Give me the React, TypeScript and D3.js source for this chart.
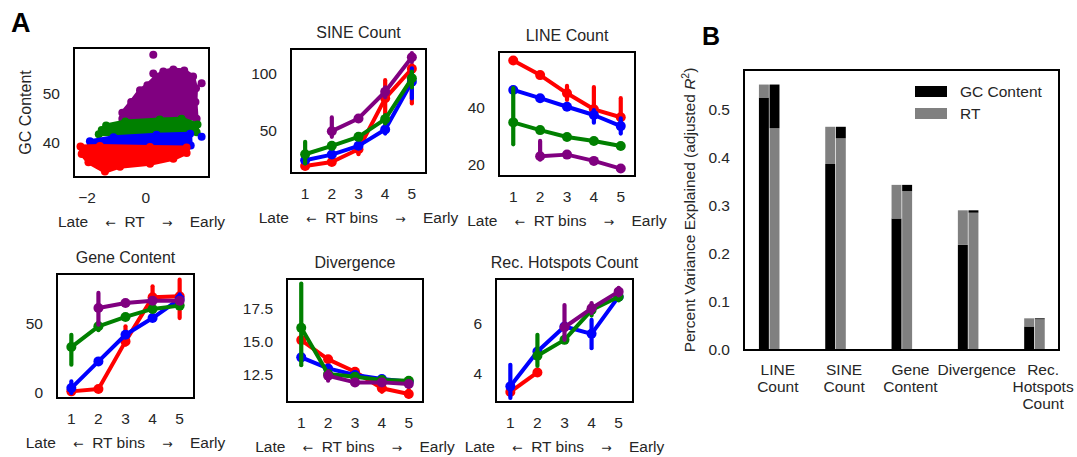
import React from "react";
import * as d3 from "d3";

// ---------- DATA ----------
const bins = [1, 2, 3, 4, 5];
const hueColors = ["#ff0000", "#0000ff", "#008000", "#800080"]; // red, blue, green, purple

// SINE Count
const sineMean = [
  [18.5, 22, 33.2, 78, 104],
  [23.5, 28.5, 36.2, 50.6, 92.6],
  [28.8, 36.2, 44.1, 59.7, 95.6],
  [null, 49.1, 60.3, 83.8, 114.2],
];
const sineLo = [
  [17, 20.5, 28.8, 63, 73.5],
  [22, 27, 34.5, 47, 78],
  [20.6, 34.5, 42.5, 55.9, 87.7],
  [null, 44.1, 58.5, 78.9, 110],
];
const sineHi = [
  [20, 23.5, 38.3, 94, 107.4],
  [25, 30, 38, 54.4, 104.4],
  [39.7, 38, 46, 63.2, 101.5],
  [null, 61.2, 62, 87.7, 117.7],
];

// LINE Count
const lineMean = [
  [56.4, 51.3, 44.9, 39.3, 36.5],
  [46.1, 43.2, 40.2, 37.3, 33.4],
  [34.7, 32, 29.6, 28.2, 26.4],
  [null, 22.8, 23.4, 21.2, 18.5],
];
const lineLo = [
  [55.8, 50.6, 42.6, 37.3, 34.9],
  [45.4, 42.5, 39.5, 34.6, 30.8],
  [27, 31.3, 28.9, 27.5, 25.7],
  [null, 21.6, 22.7, 20.5, 17.8],
];
const lineHi = [
  [57, 52, 47.5, 47.1, 43.2],
  [46.8, 43.9, 40.9, 39, 36.1],
  [46.7, 32.7, 30.3, 28.9, 27.1],
  [null, 28.2, 24.1, 21.9, 19.2],
];

// Gene Content
const geneMean = [
  [1.2, 2.9, 37.4, 69.3, 70],
  [3.6, 22.9, 42.2, 54.3, 68.1],
  [33.3, 48.3, 55.1, 60.9, 63.3],
  [null, 61.6, 65.2, 66.9, 66.9],
];
const geneLo = [
  [0.5, 2.0, 35, 61.6, 54.3],
  [0, 21.5, 40.5, 53, 64.5],
  [20.5, 45.5, 53.8, 59.6, 62],
  [null, 49.5, 64, 65.7, 65.5],
];
const geneHi = [
  [2, 4, 48.3, 77.3, 82.1],
  [8.4, 24.5, 44, 55.7, 71.5],
  [42.2, 51, 56.5, 62.2, 64.6],
  [null, 72.5, 66.4, 68.1, 68.3],
];

// Divergence
const divMean = [
  [15.13, 13.67, 12.73, 11.47, 11.04],
  [13.82, 12.98, 12.48, 12.17, 11.97],
  [16.06, 12.55, 12.35, 12.1, 12.05],
  [null, 12.42, 11.92, 11.92, 11.8],
];
const divLo = [
  [15.0, 13.55, 12.6, 11.2, 10.85],
  [13.72, 12.88, 12.38, 12.07, 11.87],
  [13.23, 12.45, 12.25, 12.0, 11.95],
  [null, 12.05, 11.82, 11.82, 11.7],
];
const divHi = [
  [15.25, 13.8, 12.85, 11.9, 11.35],
  [13.92, 13.08, 12.58, 12.27, 12.07],
  [19.42, 12.65, 12.45, 12.2, 12.15],
  [null, 12.75, 12.02, 12.02, 11.9],
];

// Rec. Hotspots Count
const recMean = [
  [3.28, 4.05, null, null, null],
  [3.5, 4.88, 5.87, 5.58, 7.05],
  [null, 4.71, 5.34, 6.52, 7.05],
  [null, null, 5.84, 6.59, 7.25],
];
const recLo = [
  [3.2, 3.95, null, null, null],
  [3.04, 4.8, 5.8, 5.01, 6.98],
  [null, 4.31, 5.25, 6.3, 6.9],
  [null, null, 5.34, 6.4, 7.1],
];
const recHi = [
  [3.36, 4.15, null, null, null],
  [4.35, 4.96, 5.94, 6.13, 7.12],
  [null, 5.54, 5.43, 6.7, 7.35],
  [null, null, 6.72, 6.8, 7.4],
];

// GC content vs RT scatter clouds (outlines of dense point clouds)
const gcPurple: [number, number][] = [
  [0.93, 54.8], [0.59, 54.4], [0.35, 53.4], [0.05, 51.6], [-0.2, 50.6], [-0.5, 48.2],
  [-0.8, 46.0], [-0.8, 44.8], [1.72, 44.8], [1.68, 48.2], [1.7, 51.0], [1.6, 53.4], [1.3, 54.6],
];
const gcGreen: [number, number][] = [
  [-1.6, 41.6], [-1.35, 43.4], [-0.7, 44.2], [0.47, 44.6], [1.21, 44.8], [1.75, 43.6], [1.72, 42.0], [0.3, 41.8],
];
const gcBlue: [number, number][] = [
  [-1.9, 40.2], [-1.1, 41.0], [0.36, 41.5], [1.5, 41.7], [1.52, 39.3], [-1.87, 39.3],
];
const gcRed: [number, number][] = [
  [-2.22, 39.1], [-2.18, 37.6], [-1.95, 35.9], [-1.39, 34.0], [-0.88, 35.0], [0.14, 35.6],
  [0.93, 36.6], [1.38, 37.8], [1.38, 38.9], [0.14, 39.0], [-1.56, 39.2],
];
const gcOutliers: [number, number, number][] = [
  [0.25, 57.8, 3], [1.89, 41.1, 1], [0.25, 54.0, 3], [1.89, 52.0, 3], [-1.5, 42.5, 2],
];

// Panel B
const bCategories = [["LINE", "Count"], ["SINE", "Count"], ["Gene", "Content"], ["Divergence"], ["Rec.", "Hotspots", "Count"]];
const totalR2 = [0.553, 0.465, 0.344, 0.291, 0.066];
const gcR2 = [0.526, 0.3875, 0.274, 0.219, 0.049];
const rtR2 = [0.462, 0.441, 0.331, 0.286, 0.064];
const bTicks = [0.0, 0.1, 0.2, 0.3, 0.4, 0.5];

// ---------- STYLE ----------
const FONT = "'Liberation Sans', Arial, Helvetica, sans-serif";
const TXT = "#262626";
const FS = 15.5;
const FT = 16;
const NB = "\u00A0";

function XLabel(props: { x: number; y: number; mid: string }) {
  return (
    <text x={props.x} y={props.y} dy="0.35em" textAnchor="middle" fontSize={FS} fill={TXT}>
      {"Late" + NB + NB + NB + NB}
      <tspan fontFamily="'DejaVu Sans'" fontSize={12.5}>{"\u2190"}</tspan>
      {NB + NB + props.mid + NB + NB + NB + NB}
      <tspan fontFamily="'DejaVu Sans'" fontSize={12.5}>{"\u2192"}</tspan>
      {NB + NB + NB + NB + "Early"}
    </text>
  );
}

type Box = { x0: number; x1: number; y0: number; y1: number };

function PointPanel(props: {
  box: Box; yDom: [number, number]; yTicks: number[]; yFmt?: (v: number) => string;
  title: string; mean: (number | null)[][]; lo: (number | null)[][]; hi: (number | null)[][];
}) {
  const { box, yDom, yTicks, title, mean, lo, hi } = props;
  const fmt = props.yFmt || ((v: number) => String(v));
  const x = d3.scaleLinear().domain([0.47, 5.53]).range([box.x0, box.x1]);
  const y = d3.scaleLinear().domain(yDom).range([box.y1, box.y0]);
  const cx = (box.x0 + box.x1) / 2;
  return (
    <g>
      <text x={cx} y={box.y0 - 17} dy="0.35em" textAnchor="middle" fontSize={FT} fill={TXT}>{title}</text>
      {yTicks.map((t) => (
        <text key={t} x={box.x0 - 14} y={y(t)} dy="0.35em" textAnchor="end" fontSize={FS} fill={TXT}>{fmt(t)}</text>
      ))}
      {bins.map((b) => (
        <text key={b} x={x(b)} y={box.y1 + 21} dy="0.35em" textAnchor="middle" fontSize={FS} fill={TXT}>{b}</text>
      ))}
      <XLabel x={cx} y={box.y1 + 45} mid="RT bins" />
      {mean.map((ser, h) => {
        const pts = bins.map((b, i) => ({ b, v: ser[i], lo: lo[h][i], hi: hi[h][i] })).filter((p) => p.v !== null);
        const line = d3.line<any>().x((p) => x(p.b)).y((p) => y(p.v));
        const col = hueColors[h];
        return (
          <g key={h}>
            <path d={line(pts) || ""} fill="none" stroke={col} strokeWidth={4} strokeLinejoin="round" />
            {pts.map((p) => (
              <line key={"e" + p.b} x1={x(p.b)} x2={x(p.b)} y1={y(p.lo as number)} y2={y(p.hi as number)} stroke={col} strokeWidth={4.2} strokeLinecap="round" />
            ))}
            {pts.map((p) => (
              <circle key={"c" + p.b} cx={x(p.b)} cy={y(p.v as number)} r={5} fill={col} />
            ))}
          </g>
        );
      })}
      <rect x={box.x0} y={box.y0} width={box.x1 - box.x0} height={box.y1 - box.y0} fill="none" stroke="#000" strokeWidth={2} />
    </g>
  );
}

function ScatterPanel() {
  const box: Box = { x0: 74, x1: 209, y0: 48, y1: 177 };
  const x = d3.scaleLinear().domain([-2.44, 2.14]).range([box.x0, box.x1]);
  const y = d3.scaleLinear().domain([32.9, 59.2]).range([box.y1, box.y0]);
  const line = d3.line<[number, number]>().x((p) => x(p[0])).y((p) => y(p[1])).curve(d3.curveLinearClosed);
  const clouds: [[number, number][], number][] = [[gcPurple, 3], [gcGreen, 2], [gcBlue, 1], [gcRed, 0]];
  const cx = (box.x0 + box.x1) / 2;
  return (
    <g>
      {clouds.map(([poly, h]) => (
        <g key={h}>
          <path d={line(poly) || ""} fill={hueColors[h]} stroke={hueColors[h]} strokeWidth={4} strokeLinejoin="round" />
          {poly.map((p, i) => (
            <circle key={i} cx={x(p[0])} cy={y(p[1])} r={4} fill={hueColors[h]} />
          ))}
        </g>
      ))}
      {gcOutliers.map((p, i) => (
        <circle key={i} cx={x(p[0])} cy={y(p[1])} r={4} fill={hueColors[p[2]]} />
      ))}
      {[40, 50].map((t) => (
        <text key={t} x={box.x0 - 14} y={y(t)} dy="0.35em" textAnchor="end" fontSize={FS} fill={TXT}>{t}</text>
      ))}
      {[-2, 0].map((t) => (
        <text key={t} x={x(t)} y={box.y1 + 21} dy="0.35em" textAnchor="middle" fontSize={FS} fill={TXT}>{t < 0 ? "\u2212" + Math.abs(t) : t}</text>
      ))}
      <XLabel x={cx} y={box.y1 + 45} mid="RT" />
      <text transform={`translate(25,${(box.y0 + box.y1) / 2}) rotate(-90)`} dy="0.35em" textAnchor="middle" fontSize={FT} fill={TXT}>GC Content</text>
      <rect x={box.x0} y={box.y0} width={box.x1 - box.x0} height={box.y1 - box.y0} fill="none" stroke="#000" strokeWidth={2} />
    </g>
  );
}

function BarPanel() {
  const box: Box = { x0: 744, x1: 1059, y0: 70, y1: 350 };
  const x = d3.scaleLinear().domain([-0.51, 4.24]).range([box.x0, box.x1]);
  const y = d3.scaleLinear().domain([0, 0.5833]).range([box.y1, box.y0]);
  const w = x(0.15) - x(0);
  const GRAY = "#808080";
  return (
    <g>
      {bCategories.map((cat, i) => {
        const b1 = x(i - 0.285);
        const b2 = x(i - 0.125);
        return (
          <g key={i}>
            <rect x={b1} y={y(gcR2[i])} width={w} height={y(0) - y(gcR2[i])} fill="#000" />
            <rect x={b1} y={y(totalR2[i])} width={w} height={y(gcR2[i]) - y(totalR2[i])} fill={GRAY} />
            <rect x={b2} y={y(rtR2[i])} width={w} height={y(0) - y(rtR2[i])} fill={GRAY} />
            <rect x={b2} y={y(totalR2[i])} width={w} height={y(rtR2[i]) - y(totalR2[i])} fill="#000" />
            {cat.map((ln, j) => (
              <text key={j} x={x(i)} y={370 + j * 16.7} dy="0.35em" textAnchor="middle" fontSize={FS} fill={TXT}>{ln}</text>
            ))}
          </g>
        );
      })}
      {bTicks.map((t) => (
        <text key={t} x={box.x0 - 14} y={y(t)} dy="0.35em" textAnchor="end" fontSize={FS} fill={TXT}>{t.toFixed(1)}</text>
      ))}
      <text transform={`translate(690,${(box.y0 + box.y1) / 2}) rotate(-90)`} dy="0.35em" textAnchor="middle" fontSize={FS} fill={TXT}>
        Percent Variance Explained (adjusted <tspan fontStyle="italic">R</tspan><tspan baselineShift="super" fontSize={10.5}>2</tspan>)
      </text>
      <rect x={915} y={86} width={32} height={11} fill="#000" />
      <text x={960} y={91.5} dy="0.35em" fontSize={FS} fill={TXT}>GC Content</text>
      <rect x={915} y={108} width={32} height={11} fill={GRAY} />
      <text x={960} y={114} dy="0.35em" fontSize={FS} fill={TXT}>RT</text>
      <rect x={box.x0} y={box.y0} width={box.x1 - box.x0} height={box.y1 - box.y0} fill="none" stroke="#000" strokeWidth={2} />
    </g>
  );
}

export default function App() {
  return (
    <svg width={1077} height={457} style={{ position: "absolute", left: 0, top: 0, background: "#fff" }} fontFamily={FONT}>
      <rect width={1077} height={457} fill="#fff" />
      <text x={11} y={32} fontSize={27} fontWeight="bold" fill="#000">A</text>
      <text x={702} y={45} fontSize={25} fontWeight="bold" fill="#000">B</text>
      <ScatterPanel />
      <PointPanel box={{ x0: 291, x1: 426, y0: 49, y1: 173 }} yDom={[12.3, 121.4]} yTicks={[50, 100]} title="SINE Count" mean={sineMean} lo={sineLo} hi={sineHi} />
      <PointPanel box={{ x0: 499, x1: 635, y0: 52, y1: 176 }} yDom={[15.9, 59.4]} yTicks={[20, 40]} title="LINE Count" mean={lineMean} lo={lineLo} hi={lineHi} />
      <PointPanel box={{ x0: 57, x1: 194, y0: 274, y1: 398 }} yDom={[-3.6, 86.2]} yTicks={[0, 50]} title="Gene Content" mean={geneMean} lo={geneLo} hi={geneHi} />
      <PointPanel box={{ x0: 287, x1: 423, y0: 279, y1: 402 }} yDom={[10.43, 19.77]} yTicks={[12.5, 15, 17.5]} yFmt={(v) => v.toFixed(1)} title="Divergence" mean={divMean} lo={divLo} hi={divHi} />
      <PointPanel box={{ x0: 496, x1: 633, y0: 279, y1: 402 }} yDom={[2.88, 7.75]} yTicks={[4, 6]} title="Rec. Hotspots Count" mean={recMean} lo={recLo} hi={recHi} />
      <BarPanel />
    </svg>
  );
}
